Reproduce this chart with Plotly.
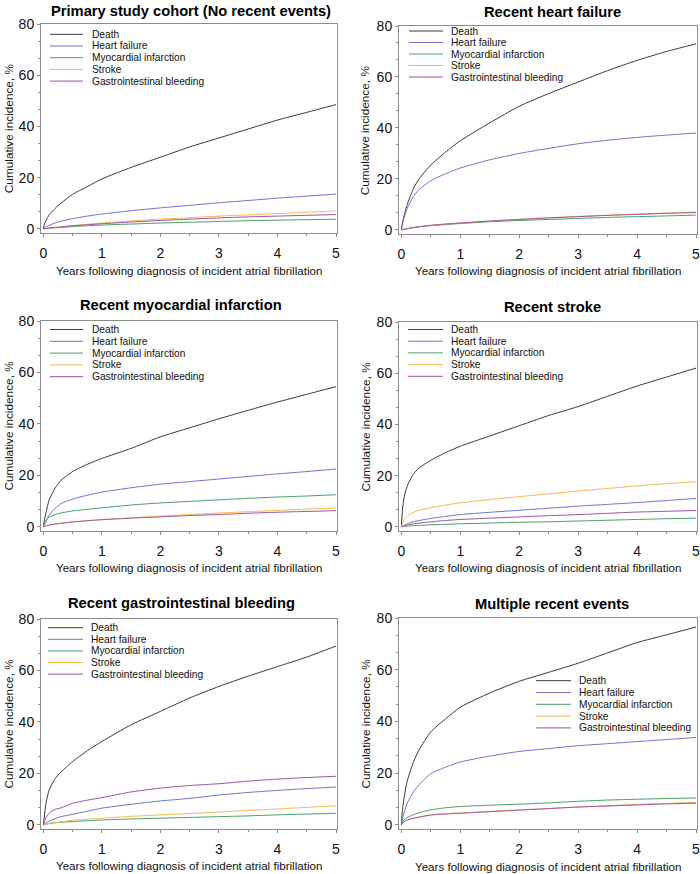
import plotly.graph_objects as go

W, H = 700, 874
FONT = "Arial, 'Liberation Sans', sans-serif"

# ---------------- data ----------------
years = [0, 0.02, 0.05, 0.1, 0.2, 0.3, 0.5, 0.75, 1, 1.5, 2, 2.5, 3, 3.5, 4, 4.5, 5]
outcomes = ["Death", "Heart failure", "Myocardial infarction", "Stroke", "Gastrointestinal bleeding"]
colors = ["#3a3a3a", "#7272c8", "#4a9e66", "#f7b850", "#9d52a2"]
panel_titles = ["Primary study cohort (No recent events)", "Recent heart failure",
                "Recent myocardial infarction", "Recent stroke",
                "Recent gastrointestinal bleeding", "Multiple recent events"]
x_ticks = [0, 1, 2, 3, 4, 5]
y_ticks = [0, 20, 40, 60, 80]
x_title = "Years following diagnosis of incident atrial fibrillation"
y_title = "Cumulative incidence, %"

# Primary study cohort (No recent events)
p1_death = [0, 2, 3.5, 5.5, 8, 10, 13.5, 16.5, 19.5, 24, 28, 32, 35.5, 39, 42.5, 45.5, 48.5]
p1_hf = [0, 0.4, 0.8, 1.4, 2.3, 3, 4, 5, 5.8, 7.1, 8.2, 9.2, 10.2, 11.1, 12, 12.8, 13.6]
p1_mi = [0, 0.08, 0.15, 0.25, 0.45, 0.6, 0.9, 1.2, 1.5, 1.9, 2.3, 2.6, 2.9, 3.2, 3.4, 3.6, 3.8]
p1_stroke = [0, 0.1, 0.2, 0.35, 0.6, 0.85, 1.3, 1.8, 2.3, 3.1, 3.8, 4.4, 5, 5.5, 6, 6.5, 7.0]
p1_gib = [0, 0.1, 0.2, 0.3, 0.55, 0.75, 1.2, 1.6, 2.0, 2.7, 3.3, 3.8, 4.3, 4.7, 5.0, 5.3, 5.6]

# Recent heart failure
p2_death = [0, 3, 6, 10, 16, 20, 25.5, 30.5, 35, 42, 48.5, 53.5, 58, 62.5, 66.5, 70, 73]
p2_hf = [0, 2.5, 5, 8.5, 13, 15.8, 19.3, 22, 24.3, 27.5, 30, 32, 33.8, 35.2, 36.3, 37.2, 38]
p2_mi = [0, 0.1, 0.25, 0.5, 0.9, 1.2, 1.7, 2.1, 2.5, 3.2, 3.7, 4.1, 4.5, 4.9, 5.2, 5.5, 5.8]
p2_stroke = [0, 0.1, 0.25, 0.5, 0.9, 1.25, 1.8, 2.3, 2.7, 3.5, 4.2, 4.8, 5.3, 5.8, 6.2, 6.6, 7.0]
p2_gib = [0, 0.1, 0.25, 0.5, 0.9, 1.25, 1.8, 2.3, 2.7, 3.5, 4.1, 4.7, 5.2, 5.7, 6.1, 6.5, 6.8]

# Recent myocardial infarction
p3_death = [0, 3, 6, 10.5, 15, 18, 21.5, 24.3, 26.6, 30.5, 35, 38.5, 42, 45.3, 48.5, 51.5, 54.5]
p3_hf = [0, 1, 2.3, 4.5, 7.2, 9, 10.8, 12.3, 13.5, 15.2, 16.6, 17.6, 18.6, 19.6, 20.6, 21.5, 22.5]
p3_mi = [0, 1.5, 2.8, 3.8, 4.8, 5.4, 6.2, 6.8, 7.4, 8.5, 9.3, 9.9, 10.5, 11.1, 11.6, 12.0, 12.5]
p3_stroke = [0, 0.2, 0.4, 0.7, 1.1, 1.4, 1.9, 2.4, 2.8, 3.5, 4.2, 4.8, 5.4, 5.9, 6.4, 6.9, 7.3]
p3_gib = [0, 0.2, 0.4, 0.7, 1.1, 1.4, 1.9, 2.4, 2.8, 3.4, 3.9, 4.4, 4.8, 5.3, 5.7, 6.0, 6.3]

# Recent stroke
p4_death = [0, 7, 12, 16, 20.5, 23, 26, 29, 31.5, 35.5, 39.5, 43.5, 47, 51, 55, 58.5, 62]
p4_hf = [0, 0.3, 0.7, 1.2, 2, 2.5, 3.3, 4.1, 4.8, 5.7, 6.5, 7.3, 8.1, 8.8, 9.5, 10.3, 11.1]
p4_mi = [0, 0.1, 0.2, 0.3, 0.5, 0.6, 0.8, 1.0, 1.2, 1.5, 1.8, 2.0, 2.3, 2.6, 2.9, 3.2, 3.4]
p4_stroke = [0, 1.5, 3, 4.2, 5.6, 6.5, 7.5, 8.5, 9.4, 10.7, 11.8, 12.9, 14, 15, 16, 16.9, 17.6]
p4_gib = [0, 0.2, 0.4, 0.7, 1.2, 1.5, 2.0, 2.5, 2.9, 3.4, 3.9, 4.4, 4.8, 5.3, 5.8, 6.1, 6.4]

# Recent gastrointestinal bleeding
p5_death = [0, 4, 9, 13.6, 18, 20.5, 24.6, 28.8, 32.4, 38.9, 44.1, 49.3, 53.8, 57.8, 61.5, 65.2, 69.5]
p5_hf = [0, 0.4, 0.9, 1.5, 2.4, 3.2, 4.1, 5.3, 6.5, 8, 9.3, 10.3, 11.6, 12.6, 13.4, 14.1, 14.7]
p5_mi = [0, 0.1, 0.3, 0.5, 0.8, 1.0, 1.3, 1.6, 1.9, 2.3, 2.6, 2.9, 3.2, 3.5, 3.9, 4.2, 4.5]
p5_stroke = [0, 0.2, 0.4, 0.6, 0.9, 1.2, 1.8, 2.2, 2.6, 3.3, 3.9, 4.4, 5, 5.6, 6.2, 6.8, 7.4]
p5_gib = [0, 1.5, 3, 4.5, 6, 6.6, 8.4, 9.6, 10.6, 12.8, 14.3, 15.3, 16, 17, 17.8, 18.4, 18.9]

# Multiple recent events
p6_death = [0, 6, 11, 17, 24, 29, 36, 41, 45.5, 51, 55.5, 59, 62.5, 66.5, 70.5, 73.5, 76.5]
p6_hf = [0, 2.5, 5, 8.4, 12.5, 15.5, 19.8, 22.3, 24.3, 26.6, 28.4, 29.5, 30.6, 31.4, 32.2, 33, 33.8]
p6_mi = [0, 1, 2, 2.9, 3.9, 4.7, 5.8, 6.6, 7.1, 7.6, 8.0, 8.5, 9.1, 9.6, 9.9, 10.2, 10.4]
p6_stroke = [0, 0.6, 1.2, 1.9, 2.5, 3.0, 3.9, 4.3, 4.6, 5.2, 5.8, 6.3, 6.9, 7.4, 7.9, 8.3, 8.7]
p6_gib = [0, 0.6, 1.2, 1.9, 2.5, 3.0, 3.8, 4.2, 4.5, 5.1, 5.7, 6.3, 6.9, 7.3, 7.7, 8.1, 8.4]

panels = [
    [p1_death, p1_hf, p1_mi, p1_stroke, p1_gib],
    [p2_death, p2_hf, p2_mi, p2_stroke, p2_gib],
    [p3_death, p3_hf, p3_mi, p3_stroke, p3_gib],
    [p4_death, p4_hf, p4_mi, p4_stroke, p4_gib],
    [p5_death, p5_hf, p5_mi, p5_stroke, p5_gib],
    [p6_death, p6_hf, p6_mi, p6_stroke, p6_gib],
]

# ---------------- layout (pixel geometry) ----------------
# plot boxes: (left, right, top, bottom) in px
boxes = [(41, 337, 24, 233), (399, 697, 26, 234),
         (41, 337, 321, 531), (399, 697, 322, 531),
         (41, 337, 619, 829), (399, 697, 618, 829)]
title_pos = [(191, 11), (552, 12), (181, 305), (552, 307), (181, 603), (552, 604)]
xtitle_y = [270, 270, 567, 567, 865.5, 866]
ytitle_x = [8.7, 365.3, 8.5, 365, 8.5, 365]
# legend: (line x0, line x1, text x, first row y, row step, font size)
legend_pos = [(50, 83, 90, 34.3, 11.7, 10.2), (409, 443, 449, 31, 11.5, 10.2),
              (50, 83, 90, 329.5, 11.8, 10.2), (408, 443, 449, 329.5, 11.7, 10.2),
              (48, 83, 89, 627.7, 11.6, 10.2), (536, 571, 577, 680.7, 11.8, 10.2)]

def px(x):
    return x / W

def py(y):
    return 1 - y / H

fig = go.Figure()
annotations = []
shapes = []
AX_COLOR = "#8c8c8c"

for i, series in enumerate(panels):
    n = "" if i == 0 else str(i + 1)
    for name, col, vals in zip(outcomes, colors, series):
        fig.add_trace(go.Scatter(
            x=years, y=vals, mode="lines", name=name, showlegend=False,
            line=dict(color=col, width=1, shape="spline", smoothing=0.6),
            xaxis="x" + n, yaxis="y" + n))
    l, r, t, b = boxes[i]
    common = dict(showline=True, mirror=True, linecolor=AX_COLOR, linewidth=1,
                  showgrid=False, zeroline=False, ticks="outside", ticklen=3,
                  tickcolor=AX_COLOR, tickwidth=1, ticklabeloverflow="allow",
                  automargin=False,
                  tickfont=dict(family=FONT, size=14, color="#111"))
    fig.layout["xaxis" + n] = dict(
        domain=[px(l), px(r)], anchor="y" + n, range=[-0.04, 5.017],
        tickvals=x_ticks, ticktext=[str(v) for v in x_ticks], ticklabelstandoff=4,
        minor=dict(dtick=0.5, tick0=0, ticks="outside", ticklen=2, tickcolor=AX_COLOR),
        **common)
    fig.layout["yaxis" + n] = dict(
        domain=[py(b), py(t)], anchor="x" + n, range=[-1.6, 80],
        tickvals=y_ticks, ticktext=[str(v) for v in y_ticks],
        minor=dict(dtick=20 / 3, tick0=0, ticks="outside", ticklen=2, tickcolor=AX_COLOR),
        **common)
    # title
    tx, ty = title_pos[i]
    annotations.append(dict(text="<b>" + panel_titles[i] + "</b>", x=px(tx), y=py(ty),
                            xref="paper", yref="paper", xanchor="center", yanchor="middle",
                            showarrow=False, font=dict(family=FONT, size=14.7, color="#000")))
    annotations.append(dict(text=x_title, x=px((l + r) / 2), y=py(xtitle_y[i]),
                            xref="paper", yref="paper", xanchor="center", yanchor="middle",
                            showarrow=False, font=dict(family=FONT, size=11.6, color="#111")))
    annotations.append(dict(text=y_title, x=px(ytitle_x[i]), y=py((t + b) / 2), textangle=-90,
                            xref="paper", yref="paper", xanchor="center", yanchor="middle",
                            showarrow=False, font=dict(family=FONT, size=11.8, color="#111")))
    # legend
    lx0, lx1, ltx, ly0, lstep, lfs = legend_pos[i]
    for k, (name, col) in enumerate(zip(outcomes, colors)):
        yy = ly0 + k * lstep
        shapes.append(dict(type="line", xref="paper", yref="paper",
                           x0=px(lx0), x1=px(lx1), y0=py(yy), y1=py(yy),
                           line=dict(color=col, width=1)))
        annotations.append(dict(text=name, x=px(ltx), y=py(yy), xref="paper", yref="paper",
                                xanchor="left", yanchor="middle", showarrow=False,
                                font=dict(family=FONT, size=lfs, color="#111")))

fig.update_layout(template="none", width=W, height=H, autosize=False,
                  margin=dict(l=0, r=0, t=0, b=0, pad=0),
                  paper_bgcolor="white", plot_bgcolor="white",
                  annotations=annotations, shapes=shapes, showlegend=False)

fig.write_html("out.html", config={"displayModeBar": False},
               post_script="document.body.style.margin='0px';document.body.style.padding='0px';")
